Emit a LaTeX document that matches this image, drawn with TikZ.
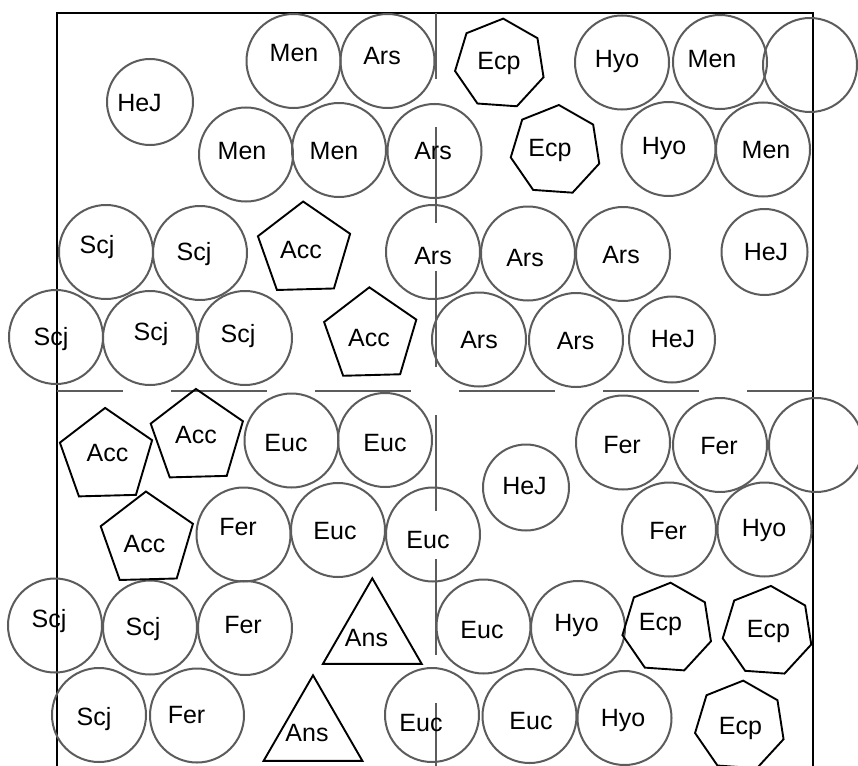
\documentclass[tikz,border=0pt]{standalone}
\usepackage{fontspec}
\setmainfont{Liberation Sans}
\usetikzlibrary{shapes.geometric}
\definecolor{circgray}{RGB}{92,92,92}
\tikzset{
  circ/.style={circle, draw=circgray, line width=2pt, inner sep=0pt, minimum size=94pt},
  smallcirc/.style={circ, minimum size=86pt},
  pent/.style={regular polygon, regular polygon sides=5, draw=black, line width=1.9pt, inner sep=0pt, minimum size=97pt, rotate=1.5},
  hept/.style={regular polygon, regular polygon sides=7, draw=black, line width=1.9pt, inner sep=0pt, minimum size=91pt, rotate=-4},
  tri/.style={regular polygon, regular polygon sides=3, draw=black, line width=1.9pt, inner sep=0pt, minimum size=114pt},
  lbl/.style={anchor=base, inner sep=0pt, font=\fontsize{25}{30}\selectfont},
  frameline/.style={draw=black, line width=2.4pt},
  divider/.style={draw=circgray, line width=2pt, dash pattern=on 96pt off 48pt, dash phase=30pt}
}
\begin{document}
\begin{tikzpicture}[x=1pt, y=-1pt]
\useasboundingbox (0,0) rectangle (858,765);
\clip (0,0) rectangle (858,765);
\fill[white] (0,0) rectangle (858,765);
% frame
\coordinate (fbl) at (57,775);
\coordinate (ftl) at (57,13);
\coordinate (ftr) at (813,13);
\coordinate (fbr) at (813,775);
\draw[frameline] (fbl) -- (ftl) -- (ftr) -- (fbr);
% dividers
\coordinate (hl) at (57,391);
\coordinate (hr) at (813,391);
\coordinate (vt) at (435.5,13);
\coordinate (vb) at (435.5,775);
\draw[divider] (hl) -- (hr);
\draw[divider] (vt) -- (vb);
% circles
\node[smallcirc] (c1) at (150,102) {};
\node[circ] (c2) at (293.5,61) {};
\node[circ] (c3) at (387.5,61) {};
\node[circ] (c4) at (246,154.5) {};
\node[circ] (c5) at (339,150) {};
\node[circ] (c6) at (434.5,151) {};
\node[circ] (c7) at (106,252) {};
\node[circ] (c8) at (200,253) {};
\node[circ] (c9) at (56,337) {};
\node[circ] (c10) at (150,338) {};
\node[circ] (c11) at (245,338) {};
\node[circ] (c12) at (622,62.5) {};
\node[circ] (c13) at (720,62) {};
\node[circ] (c14) at (810,65) {};
\node[circ] (c15) at (668.5,149) {};
\node[circ] (c16) at (763,149.5) {};
\node[circ] (c17) at (433,252) {};
\node[circ] (c18) at (528,253.5) {};
\node[circ] (c19) at (623,254) {};
\node[smallcirc] (c20) at (764.5,252) {};
\node[circ] (c21) at (479,339.5) {};
\node[circ] (c22) at (576,340) {};
\node[smallcirc] (c23) at (672,339.5) {};
\node[circ] (c24) at (291.5,440.5) {};
\node[circ] (c25) at (385,440) {};
\node[circ] (c26) at (243.5,534.5) {};
\node[circ] (c27) at (338,530) {};
\node[circ] (c28) at (433,534.5) {};
\node[circ] (c29) at (55,625.5) {};
\node[circ] (c30) at (150,627.5) {};
\node[circ] (c31) at (245,628) {};
\node[circ] (c32) at (99,715) {};
\node[circ] (c33) at (197,715.5) {};
\node[smallcirc] (c34) at (526,487.5) {};
\node[circ] (c35) at (623,442.5) {};
\node[circ] (c36) at (720,445) {};
\node[circ] (c37) at (816,445) {};
\node[circ] (c38) at (669,529.5) {};
\node[circ] (c39) at (764.5,529.5) {};
\node[circ] (c40) at (483.5,626.5) {};
\node[circ] (c41) at (578,628) {};
\node[circ] (c42) at (529.5,716) {};
\node[circ] (c43) at (624.5,718) {};
\node[circ] (c44) at (432,715) {};
% pentagons
\node[pent] (p1) at (304.4,250) {};
\node[pent] (p2) at (370.6,335.8) {};
\node[pent] (p3) at (106.4,456.4) {};
\node[pent] (p4) at (197.2,437.4) {};
\node[pent] (p5) at (147.2,540) {};
% heptagons
\node[hept] (h1) at (500,64) {};
\node[hept] (h2) at (555.7,150.4) {};
\node[hept] (h3) at (667.4,628.1) {};
\node[hept] (h4) at (767.7,631.3) {};
\node[hept] (h5) at (740,726) {};
% triangles
\node[tri] (t1) at (372.3,635.3) {};
\node[tri] (t2) at (313,732.3) {};
% labels
\node[lbl] (l1) at (139.5,111) {HeJ};
\node[lbl] (l2) at (294,62) {Men};
\node[lbl] (l3) at (382,64.5) {Ars};
\node[lbl] (l4) at (242,159.5) {Men};
\node[lbl] (l5) at (334,159.5) {Men};
\node[lbl] (l6) at (433,159.5) {Ars};
\node[lbl] (l7) at (97,253) {Scj};
\node[lbl] (l8) at (194,260) {Scj};
\node[lbl] (l9) at (301,258.5) {Acc};
\node[lbl] (l10) at (51,345) {Scj};
\node[lbl] (l11) at (151,340.5) {Scj};
\node[lbl] (l12) at (238,342) {Scj};
\node[lbl] (l13) at (369,346) {Acc};
\node[lbl] (l14) at (499,69.5) {Ecp};
\node[lbl] (l15) at (617,68) {Hyo};
\node[lbl] (l16) at (712,68) {Men};
\node[lbl] (l17) at (550,156) {Ecp};
\node[lbl] (l18) at (664,154.5) {Hyo};
\node[lbl] (l19) at (766,158) {Men};
\node[lbl] (l20) at (433,264.5) {Ars};
\node[lbl] (l21) at (525,266) {Ars};
\node[lbl] (l22) at (621,263) {Ars};
\node[lbl] (l23) at (766,260.5) {HeJ};
\node[lbl] (l24) at (479,348) {Ars};
\node[lbl] (l25) at (575.5,349.5) {Ars};
\node[lbl] (l26) at (673,347) {HeJ};
\node[lbl] (l27) at (107.5,461) {Acc};
\node[lbl] (l28) at (196,443) {Acc};
\node[lbl] (l29) at (286,451) {Euc};
\node[lbl] (l30) at (385,451) {Euc};
\node[lbl] (l31) at (144.5,552) {Acc};
\node[lbl] (l32) at (238,535) {Fer};
\node[lbl] (l33) at (335,539.5) {Euc};
\node[lbl] (l34) at (428,548) {Euc};
\node[lbl] (l35) at (49,627) {Scj};
\node[lbl] (l36) at (143,635.5) {Scj};
\node[lbl] (l37) at (243,633) {Fer};
\node[lbl] (l38) at (366.5,646) {Ans};
\node[lbl] (l39) at (94,725.5) {Scj};
\node[lbl] (l40) at (186.5,723) {Fer};
\node[lbl] (l41) at (307,741) {Ans};
\node[lbl] (l42) at (421,731) {Euc};
\node[lbl] (l43) at (524.5,494) {HeJ};
\node[lbl] (l44) at (622,453) {Fer};
\node[lbl] (l45) at (719,454.5) {Fer};
\node[lbl] (l46) at (668,539.5) {Fer};
\node[lbl] (l47) at (764,536) {Hyo};
\node[lbl] (l48) at (482,638) {Euc};
\node[lbl] (l49) at (576.5,631) {Hyo};
\node[lbl] (l50) at (660.5,630) {Ecp};
\node[lbl] (l51) at (768.5,637) {Ecp};
\node[lbl] (l52) at (531,729.5) {Euc};
\node[lbl] (l53) at (623,726) {Hyo};
\node[lbl] (l54) at (740.5,734.5) {Ecp};
\end{tikzpicture}
\end{document}
